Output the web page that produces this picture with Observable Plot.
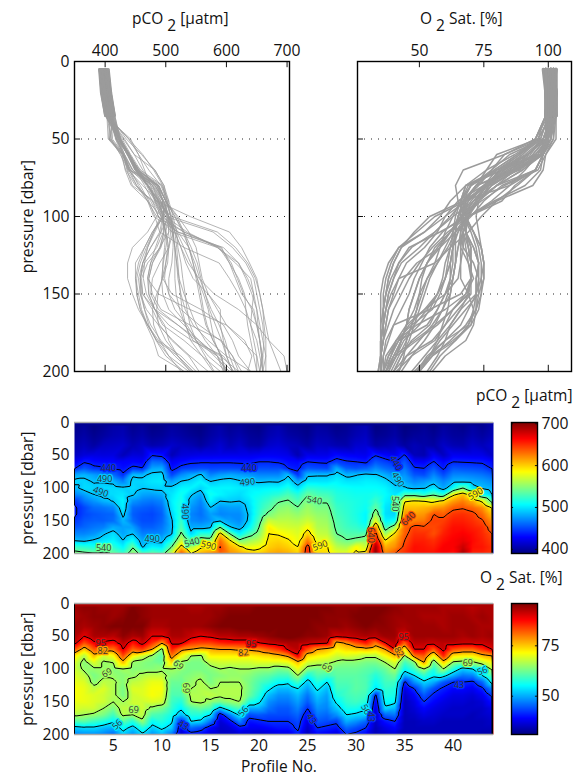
<!DOCTYPE html>
<html><head><meta charset="utf-8">
<script src="https://cdn.jsdelivr.net/npm/d3@7"></script>
<script src="https://cdn.jsdelivr.net/npm/@observablehq/plot@0.6"></script>
<style>
html,body{margin:0;padding:0;background:#fff}
#page{position:relative;width:573px;height:776px;overflow:hidden;font-family:"Open Sans",sans-serif;color:#111}
#page>svg,#page>figure{position:absolute;margin:0}
.t{position:absolute;font-size:15.5px;line-height:18px;white-space:pre}
.t sub{font-size:15.5px;line-height:0;vertical-align:-7px}
</style></head><body><div id="page"></div>
<script>
const pressureLevels=[5,20,35,50,60,70,80,90,100,110,120,130,140,150,160,170,180,190,200];
const pco2Profiles=[
[393,397,403,410,425,439,480,495,485,470,445,437,437,445,455,470,488,525,550],
[398,402,408,418,438,455,485,495,497,478,465,450,450,455,460,470,485,520,545],
[391,395,401,420,432,445,478,488,495,490,475,462,455,458,465,475,492,515,542],
[396,400,410,419,430,442,470,488,497,496,485,465,458,458,468,488,500,520,545],
[402,405,412,420,430,438,462,486,496,497,491,470,460,462,482,498,505,520,540],
[404,407,414,408,428,433,443,470,493,500,505,503,495,485,478,480,490,505,525],
[395,399,405,418,430,445,488,495,497,492,475,462,458,462,478,490,510,538,555],
[399,403,411,417,428,441,486,495,491,480,468,458,452,452,458,468,480,488,530],
[392,396,404,439,462,480,495,500,494,478,465,455,450,452,458,470,485,505,538],
[394,398,407,435,460,482,497,502,495,482,470,462,458,460,465,472,484,500,530],
[400,404,413,407,426,434,450,478,494,500,503,500,494,487,485,488,512,540,570],
[397,401,409,418,432,446,472,491,505,512,515,518,520,525,532,545,570,600,640],
[393,397,406,420,437,449,482,496,505,492,483,475,470,472,482,495,530,560,590],
[391,394,400,422,438,452,493,505,495,480,470,465,463,468,482,520,555,585,610],
[398,401,408,422,438,450,470,490,505,512,505,490,478,475,488,520,550,590,620],
[403,406,415,423,438,451,478,495,505,505,490,475,470,488,540,600,630,642,635],
[396,400,406,423,438,451,482,497,505,500,492,478,472,478,492,540,592,610,620],
[399,404,412,423,437,450,478,492,502,497,490,478,472,472,482,505,543,595,612],
[394,398,403,423,436,449,475,492,503,505,500,496,493,495,505,530,555,580,605],
[392,396,402,425,440,452,470,487,503,510,515,518,522,530,540,550,565,585,600],
[401,405,413,426,440,452,470,489,505,515,525,533,545,570,590,590,595,600,610],
[405,409,416,425,438,452,470,488,505,520,538,548,556,565,575,588,598,605,615],
[397,402,410,422,432,440,488,500,515,530,542,552,558,565,572,582,592,600,610],
[395,399,407,406,430,436,445,480,497,518,530,541,552,562,570,575,580,590,600],
[392,395,401,423,440,455,487,500,520,538,550,555,560,570,585,600,625,650,655],
[400,404,411,422,438,452,488,500,518,530,538,545,552,558,562,568,578,592,598],
[398,403,409,422,437,450,488,500,515,528,538,545,550,555,560,566,578,592,596],
[393,397,405,432,448,482,497,505,512,518,520,525,528,532,535,540,550,565,580],
[396,399,404,428,442,458,485,500,510,515,518,520,522,524,527,533,541,560,578],
[402,406,414,426,440,454,489,500,508,512,515,515,515,517,523,532,545,585,595],
[406,410,416,424,436,458,495,503,508,512,512,510,505,505,515,535,550,570,600],
[391,395,402,439,455,472,492,502,508,515,525,537,555,580,620,650,670,695,700],
[394,397,405,430,448,462,483,497,505,508,505,500,498,505,525,555,590,610,625],
[399,402,410,425,440,456,472,483,495,500,498,495,495,510,558,595,610,620,640],
[390,393,400,442,455,465,475,482,492,530,588,605,620,630,632,635,640,645,650],
[393,398,407,408,430,442,455,470,485,530,592,605,615,625,645,650,655,660,660],
[397,400,403,405,428,440,452,475,488,520,590,608,618,628,642,650,655,658,660],
[392,396,401,425,441,455,470,484,500,535,585,615,640,645,642,640,650,655,660],
[400,404,412,410,430,437,452,470,480,520,595,620,635,645,650,655,660,665,665],
[396,399,406,425,440,455,470,484,510,585,615,635,648,655,660,662,665,665,660],
[393,398,404,424,439,453,470,485,540,605,625,638,650,655,660,665,670,680,690],
[401,405,413,423,438,452,468,482,500,578,610,632,645,650,655,660,662,660,655],
[395,400,408,422,437,450,465,478,488,510,585,620,632,642,650,652,655,658,655],
[403,407,415,412,431,439,458,472,482,490,530,588,605,620,632,640,645,650,650]];
const o2Profiles=[
[100,99,100,99,97,88,77,73,72,73,74,75,75,74,73,70,63,54,49],
[101,100,99,95,88,79,70,67,68,71,73,74,74,74,72,69,64,55,50],
[101,101,100,99,94,87,80,73,68,66,67,71,73,73,72,68,62,55,50],
[100,101,101,99,94,86,72,68,68,68,71,73,72,72,69,66,60,53,49],
[100,100,102,98,93,85,75,69,67,68,70,70,70,69,66,62,57,52,47],
[100,101,102,101,98,95,88,80,69,67,67,66,66,69,71,70,64,58,54],
[102,103,102,99,92,86,76,68,67,68,71,73,72,72,71,69,60,54,50],
[101,101,102,100,97,89,72,67,67,70,72,73,73,72,72,71,68,60,55],
[100,100,99,95,90,82,68,66,67,71,74,75,75,73,68,63,58,54,50],
[100,100,99,95,83,67,64,65,68,71,74,75,74,72,66,62,60,57,53],
[100,100,100,99,96,91,85,78,69,67,65,64,63,62,61,59,57,54,48],
[100,100,100,99,96,84,75,68,67,66,65,64,63,60,57,53,42,38,36],
[99,100,100,97,90,82,69,66,66,67,68,69,70,69,63,60,56,47,41],
[99,100,100,95,89,80,68,66,66,68,70,70,70,70,65,60,55,45,40],
[100,100,101,96,89,81,76,71,67,66,66,69,71,68,63,56,48,40,37],
[100,101,102,98,91,82,76,72,69,67,69,70,70,66,54,40,37,36,36],
[101,102,102,98,92,82,76,72,68,68,69,70,70,68,60,49,41,37,36],
[101,102,103,99,92,83,76,72,69,68,69,70,70,69,63,57,49,41,37],
[101,102,103,99,92,83,76,72,69,67,66,66,65,60,52,45,41,39,37],
[102,103,103,100,95,84,77,73,68,65,63,62,60,57,52,46,42,39,36],
[102,103,103,101,97,87,78,73,68,64,61,57,53,50,48,45,43,40,37],
[102,103,102,102,98,90,80,73,66,62,58,53,50,48,46,45,43,41,38],
[103,103,103,103,99,96,83,74,67,62,57,53,50,48,46,45,43,41,38],
[103,103,103,102,99,98,94,80,74,69,62,56,53,51,49,47,45,44,42],
[103,102,102,101,98,88,78,72,67,59,54,51,48,46,43,40,38,36,35],
[102,102,101,101,97,82,76,71,66,63,60,57,54,52,50,48,46,43,40],
[102,101,101,100,96,80,75,70,66,62,56,53,51,50,49,47,45,42,39],
[101,101,101,96,80,76,72,68,65,64,63,62,60,57,54,50,44,41,37],
[101,101,100,97,83,78,73,67,65,64,63,62,62,61,59,56,52,47,43],
[101,102,101,98,88,79,72,67,65,64,64,64,63,62,59,55,50,45,42],
[102,103,102,99,92,80,70,66,64,63,63,63,62,60,57,54,47,43,40],
[103,102,101,98,85,78,70,66,63,60,58,56,42,39,37,36,36,35,35],
[102,101,101,100,95,82,75,69,65,63,62,61,60,58,55,47,41,38,36],
[101,100,100,100,98,95,80,73,69,65,62,60,59,57,53,48,43,40,37],
[100,100,99,96,87,76,68,62,58,52,42,38,36,35,35,35,35,35,35],
[100,100,100,100,98,95,85,67,62,56,50,43,40,38,37,36,35,35,35],
[100,99,100,100,98,95,87,82,69,61,55,50,46,43,40,38,36,35,35],
[100,99,100,100,97,87,75,65,60,57,52,45,42,40,38,37,36,35,35],
[99,99,99,100,98,97,91,79,69,58,46,42,40,38,37,36,35,35,35],
[99,100,100,100,98,88,77,68,60,52,43,40,38,37,36,36,35,35,35],
[99,100,100,99,97,86,76,67,54,48,43,40,38,37,36,36,35,35,35],
[98,99,100,100,97,86,76,68,56,49,42,39,37,36,36,35,35,35,35],
[99,100,99,99,97,90,80,71,63,56,47,42,39,37,36,36,35,35,34],
[99,99,99,100,98,95,82,75,70,64,58,49,44,41,38,37,36,35,34]];
const pressureTicks=[0,50,100,150,200];
const pco2Ticks=[400,500,600,700];
const o2Ticks=[50,75,100];
const profileTicks=[5,10,15,20,25,30,35,40];
const pco2Levels=[440,490,540,590,640];
const o2Levels=[43,56,69,82,95];
const pco2BarTicks=[400,500,600,700];
const o2BarTicks=[50,75];
const pco2ColorDomain=[390,703];
const o2FieldColorDomain=[31,102];
const o2BarColorDomain=[31,96];
const jetColors=["#000080","#0000ff","#0080ff","#00ffff","#80ff80","#ffff00","#ff8000","#ff0000","#800000"];
// [profile, pressure, label, angle]
const pco2Labels=[[4.5,70,"440",0],[4.1,87,"490",0],[3.7,106,"490",20],[12.4,136,"490",90],[9,178,"490",0],[4,192,"540",0],[13.1,183,"540",-15],[14.8,188,"590",15],[19,69,"440",0],[18.8,91,"490",-5],[25.7,119,"540",10],[26.3,188,"590",-20],[34.1,62,"440",60],[34.3,87,"490",60],[34,124,"540",90],[35.4,147,"640",-45],[42.3,109,"590",-30],[31.5,172,"640",90]];
const o2Labels=[[3.7,60,"95",0],[3.9,73,"82",0],[4.35,106,"69",-30],[7.1,162,"69",0],[5.4,185,"56",-45],[11.7,94,"69",40],[12.5,129,"69",90],[18.4,165,"56",-50],[12.2,186,"43",30],[19.2,62,"95",0],[18.4,75,"82",-5],[27,98,"69",30],[31,162,"56",60],[31.5,173,"43",90],[34.9,51,"95",0],[34.4,74,"82",60],[41.5,91,"69",0],[43,103,"56",-20],[40.6,125,"43",0],[25.4,176,"43",60]];

const font='"Open Sans",sans-serif';
const fs=15.7;
const jet=d3.piecewise(d3.interpolateRgb,jetColors);
const tidy=rows=>rows.flatMap((r,i)=>r.map((value,j)=>({profile:i+1,pressure:pressureLevels[j],value})));
const page=document.getElementById("page");
const base={fontFamily:font,fontSize:fs+"px",color:"#111",background:"transparent",overflow:"visible"};
function place(svg,left,top){svg.style.left=left+"px";svg.style.top=top+"px";svg.style.position="absolute";page.appendChild(svg);}
function text(html,left,top,style){const d=document.createElement("div");d.className="t";d.innerHTML=html;d.style.left=left+"px";d.style.top=top+"px";if(style)d.style.cssText+=style;page.appendChild(d);}
const yLabel=()=>Plot.text(["pressure [dbar]"],{frameAnchor:"left",textAnchor:"middle",rotate:-90,dx:-47,fontSize:fs,fill:"#111"});

function lines(rows,domain,ticks,sw,bandWidth,opts,left){
  const step=(domain[1]-domain[0])/215;
  const table=tidy(rows);
  place(Plot.plot({
    width:opts.width,height:385,marginLeft:opts.ml,marginRight:opts.mr,marginTop:61,marginBottom:14,
    style:base,x:{domain,axis:null},y:{domain:[200,0],axis:null},
    marks:[
      Plot.ruleY([50,100,150],{stroke:"#222",strokeWidth:1,strokeDasharray:"1,6"}),
      Plot.line(table,{x:"value",y:"pressure",z:"profile",stroke:"#9b9b9b",strokeWidth:sw,clip:true}),
      Plot.line(table.filter(d=>d.pressure<=35),{x:"value",y:"pressure",z:"profile",stroke:"#9b9b9b",strokeWidth:bandWidth,clip:true}),
      Plot.ruleX(ticks,{y1:200,y2:196,stroke:"#111"}),
      Plot.ruleX(ticks,{y1:0,y2:4,stroke:"#111"}),
      Plot.ruleY([50,100,150],{x1:domain[0],x2:domain[0]+6*step,stroke:"#111"}),
      Plot.frame({stroke:"#000",strokeWidth:1.4}),
      Plot.axisX(ticks,{anchor:"top",tickSize:0,tickPadding:6,label:null,fontSize:fs}),
      ...(opts.yaxis?[Plot.axisY(pressureTicks,{anchor:"left",tickSize:0,tickPadding:5,fontSize:fs,label:null}),yLabel()]:[])
    ]}),left,0);
}
lines(pco2Profiles,[349.5,704],pco2Ticks,0.75,2,{width:290,ml:74,mr:1,yaxis:true},0);
lines(o2Profiles,[26,109],o2Ticks,1.5,3,{width:216,ml:1,mr:1,yaxis:false},356);

function heat(rows,colorDomain,levels,labels,top,showX){
  const data=tidy(rows);
  const lab=labels.map(([profile,pressure,label,angle])=>({profile,pressure,label,angle,level:+label}));
  place(Plot.plot({
    width:500,height:showX?175:160,marginLeft:74,marginRight:7,marginTop:22,marginBottom:showX?22:7,
    style:base,x:{domain:[1,44.15],axis:null},y:{domain:[200,0],axis:null},
    color:{type:"linear",domain:colorDomain,interpolate:jet,clamp:true},
    marks:[
      Plot.raster(data,{x:"profile",y:"pressure",fill:"value",interpolate:"barycentric",pixelSize:1,imageRendering:"auto"}),
      Plot.contour(data,{x:"profile",y:"pressure",value:"value",interpolate:"barycentric",pixelSize:1,thresholds:levels,stroke:"#000",strokeWidth:1,fill:"none",clip:true}),
      Plot.text(lab,{x:"profile",y:"pressure",text:"label",rotate:"angle",fontSize:9,fill:"#333",stroke:"level",strokeWidth:2.5,paintOrder:"stroke"}),
      Plot.ruleY([0,200],{stroke:"#a8a8a8",strokeWidth:1.4}),
      Plot.axisY(pressureTicks,{anchor:"left",tickSize:0,tickPadding:5,fontSize:fs,label:null}),
      yLabel(),
      ...(showX?[Plot.axisX(profileTicks,{anchor:"bottom",tickSize:0,tickPadding:5,fontSize:fs,label:null})]:[])
    ]}),0,top);
}
heat(pco2Profiles,pco2ColorDomain,pco2Levels,pco2Labels,400,false);
heat(o2Profiles,o2FieldColorDomain,o2Levels,o2Labels,581,true);

function bar(domain,ticks,top){
  place(Plot.plot({
    width:73,height:160,marginLeft:11,marginRight:36,marginTop:22,marginBottom:7,
    style:base,x:{domain:[0,1],axis:null},y:{domain,axis:null},
    color:{type:"linear",domain,interpolate:jet,clamp:true},
    marks:[
      Plot.raster({x1:0,x2:1,y1:domain[0],y2:domain[1],width:1,height:131,fill:(x,y)=>y,imageRendering:"auto"}),
      Plot.ruleY(ticks,{x1:0,x2:0.08,stroke:"#111"}),
      Plot.ruleY(ticks,{x1:0.92,x2:1,stroke:"#111"}),
      Plot.frame({stroke:"#000",strokeWidth:1.4}),
      Plot.axisY(ticks,{anchor:"right",tickSize:0,tickPadding:4,fontSize:fs,label:null})
    ]}),500,top);
}
bar(pco2ColorDomain,pco2BarTicks,400);
bar(o2BarColorDomain,o2BarTicks,581);

text("pCO <sub>2</sub> [µatm]",132,9);
text("O <sub>2</sub> Sat. [%]",420,9);
text("pCO <sub>2</sub> [µatm]",476,386);
text("O <sub>2</sub> Sat. [%]",480,568);
text("Profile No.",241,759,"line-height:15px;");
</script></body></html>
